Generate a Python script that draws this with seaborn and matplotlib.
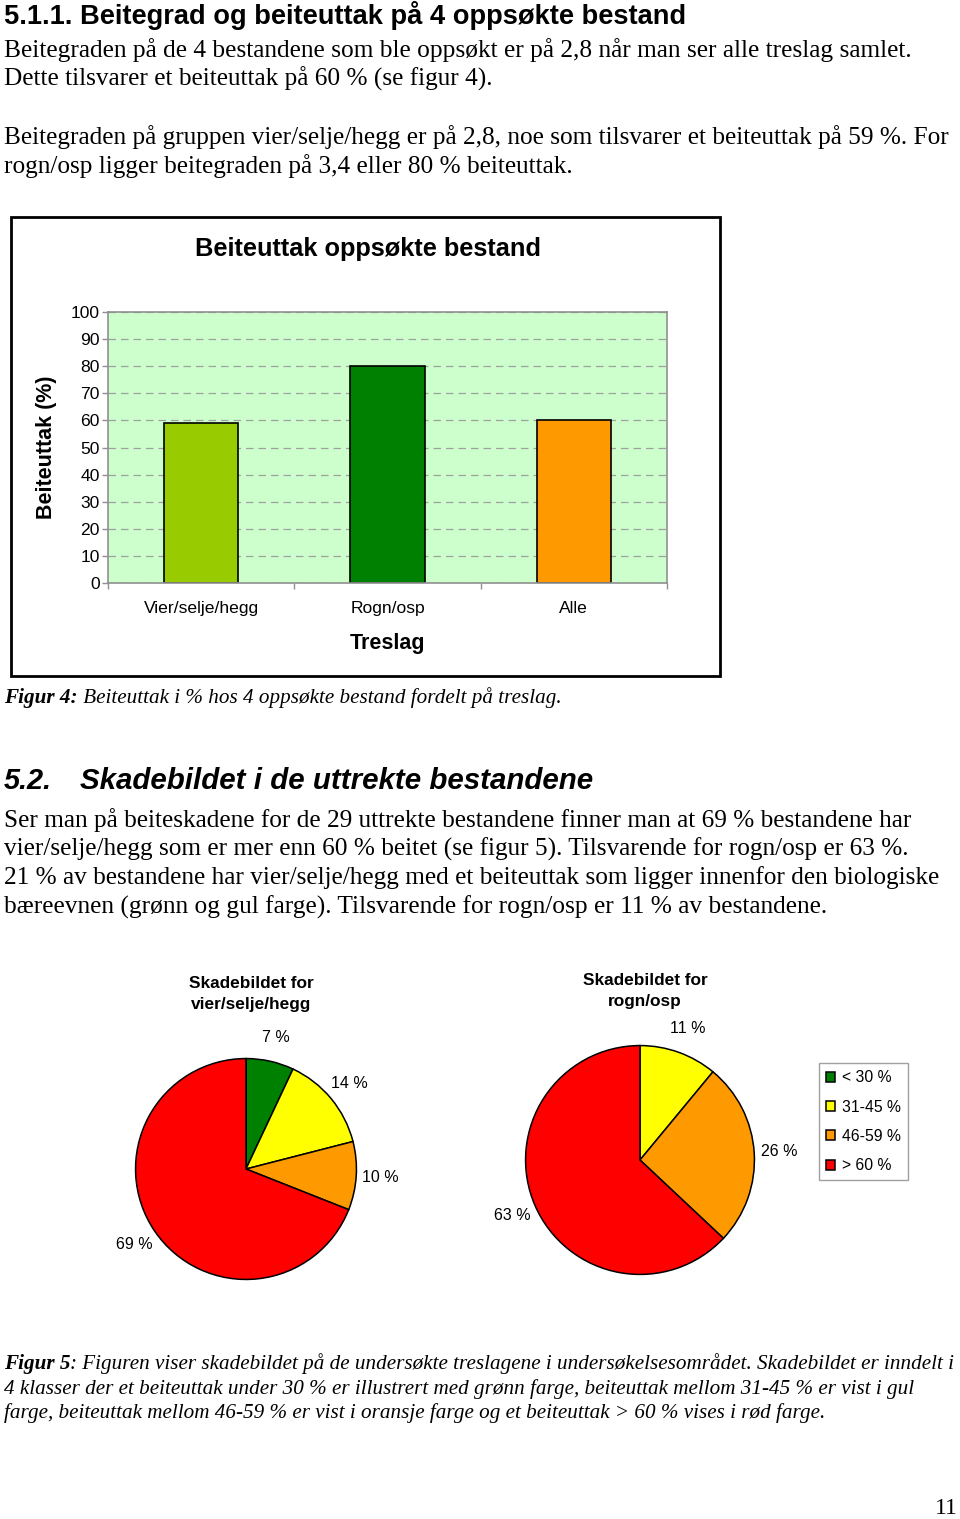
import matplotlib
matplotlib.use("Agg")
import matplotlib.pyplot as plt
import seaborn as sns
import pandas as pd
from matplotlib.patches import Rectangle
from matplotlib.ticker import FixedLocator

# ---------------- data ----------------
bar_categories = ["Vier/selje/hegg", "Rogn/osp", "Alle"]
bar_values = [59, 80, 60]
bar_colors = ["#99CC00", "#008000", "#FF9900"]
y_ticks = [0, 10, 20, 30, 40, 50, 60, 70, 80, 90, 100]

damage_classes = ["< 30 %", "31-45 %", "46-59 %", "> 60 %"]
class_colors = ["#008000", "#FFFF00", "#FF9900", "#FF0000"]
vier_shares = [7, 14, 10, 69]
rogn_shares = [0, 11, 26, 63]

# ---------------- setup ----------------
sns.set_theme(style="white")
plt.rcParams['font.family'] = ['Liberation Sans', 'DejaVu Sans']
plt.rcParams['text.color'] = 'black'
plt.rcParams['axes.labelcolor'] = 'black'
plt.rcParams['xtick.labelcolor'] = 'black'
plt.rcParams['ytick.labelcolor'] = 'black'
W, H = 960, 1519
fig = plt.figure(figsize=(9.6, 15.19), dpi=100)
fig.patch.set_facecolor("white")
renderer = fig.canvas.get_renderer()


def fx(x):
    return x / W


def fy(y):
    return 1 - y / H


def put(x, y, s, width=None, size=12, **kw):
    kw.setdefault("va", "center")
    t = fig.text(fx(x), fy(y), s, fontsize=size, **kw)
    if width:
        bb = t.get_window_extent(renderer)
        t.set_fontsize(size * width / bb.width)
    return t


def put_mixed(x, y, first, rest, width, size=12, family="Liberation Serif"):
    t1 = fig.text(fx(x), fy(y), first, fontsize=size, family=family,
                  style="italic", weight="bold", va="center")
    b1 = t1.get_window_extent(renderer)
    t2 = fig.text(fx(x) + b1.width / W, fy(y), rest, fontsize=size, family=family,
                  style="italic", va="center")
    b2 = t2.get_window_extent(renderer)
    scale = width / (b1.width + b2.width)
    ns = size * scale
    t1.set_fontsize(ns)
    b1 = t1.get_window_extent(renderer)
    t2.set_fontsize(ns)
    t2.set_x(fx(x) + b1.width / W)


serif = "Liberation Serif"

# ---------------- page text ----------------
put(4, 15, "5.1.1. Beitegrad og beiteuttak på 4 oppsøkte bestand", width=683,
    size=17, weight="bold")
put(4, 50, "Beitegraden på de 4 bestandene som ble oppsøkt er på 2,8 når man ser alle treslag samlet.",
    width=908, size=16, family=serif)
put(4, 79, "Dette tilsvarer et beiteuttak på 60 % (se figur 4).", width=489, size=16, family=serif)
put(4, 137, "Beitegraden på gruppen vier/selje/hegg er på 2,8, noe som tilsvarer et beiteuttak på 59 %. For",
    width=946, size=16, family=serif)
put(4, 166, "rogn/osp ligger beitegraden på 3,4 eller 80 % beiteuttak.", width=568, size=16, family=serif)

put_mixed(4, 698, "Figur 4:", " Beiteuttak i % hos 4 oppsøkte bestand fordelt på treslag.", 556, size=14)

put(4, 781, "5.2.", width=48, size=20, weight="bold", style="italic")
put(80, 781, "Skadebildet i de uttrekte bestandene", width=513, size=20, weight="bold", style="italic")

body2 = [
    (820, "Ser man på beiteskadene for de 29 uttrekte bestandene finner man at 69 % bestandene har", 909),
    (849, "vier/selje/hegg som er mer enn 60 % beitet (se figur 5). Tilsvarende for rogn/osp er 63 %.", 906),
    (878, "21 % av bestandene har vier/selje/hegg med et beiteuttak som ligger innenfor den biologiske", 937),
    (907, "bæreevnen (grønn og gul farge). Tilsvarende for rogn/osp er 11 % av bestandene.", 824),
]
for yy, s, w in body2:
    put(4, yy, s, width=w, size=16, family=serif)

put_mixed(4, 1364, "Figur 5", ": Figuren viser skadebildet på de undersøkte treslagene i undersøkelsesområdet. Skadebildet er inndelt i",
          948, size=14)
put(4, 1389, "4 klasser der et beiteuttak under 30 % er illustrert med grønn farge, beiteuttak mellom 31-45 % er vist i gul",
    width=909, size=14, family=serif, style="italic")
put(4, 1413, "farge, beiteuttak mellom 46-59 % er vist i oransje farge og et beiteuttak > 60 % vises i rød farge.",
    width=820, size=14, family=serif, style="italic")

put(958, 1509, "11", size=17, family=serif, ha="right")

# ---------------- bar chart ----------------
fig.add_artist(Rectangle((fx(11), fy(676)), (720 - 11) / W, (676 - 217) / H,
                         transform=fig.transFigure, fill=False, edgecolor="black", lw=2))

ax = fig.add_axes([fx(108), fy(583), (667 - 108) / W, (583 - 312) / H])
df = pd.DataFrame({"Treslag": bar_categories, "Beiteuttak": bar_values})
sns.barplot(data=df, x="Treslag", y="Beiteuttak", hue="Treslag", palette=bar_colors,
            legend=False, width=0.4, edgecolor="black", linewidth=1.2, saturation=1, ax=ax)
ax.set_facecolor("#CCFFCC")
ax.set_xlim(-0.5, 2.5)
ax.set_ylim(0, 100)
ax.set_yticks(y_ticks)
ax.set_yticklabels([str(v) for v in y_ticks], fontsize=12.6)
ax.yaxis.grid(True, linestyle=(0, (6, 4)), color="#A0A0A0", lw=0.9)
ax.set_axisbelow(True)
for sp in ax.spines.values():
    sp.set_visible(True)
    sp.set_color("#909090")
    sp.set_linewidth(1.2)
ax.tick_params(axis="y", left=True, length=4, width=1, color="#909090", pad=2, labelcolor="black")
ax.tick_params(axis="x", which="major", length=0, pad=13, labelsize=12.6, labelcolor="black")
ax.xaxis.set_minor_locator(FixedLocator([-0.5, 0.5, 1.5, 2.5]))
ax.tick_params(axis="x", which="minor", bottom=True, length=4, width=1, color="#909090")
ax.set_xlabel("Treslag", fontsize=15.5, fontweight="bold", labelpad=12, color="black")
ax.set_ylabel("Beiteuttak (%)", fontsize=15.5, fontweight="bold", labelpad=10, color="black")
put(368, 249, "Beiteuttak oppsøkte bestand", size=18.3, weight="bold", ha="center")

# ---------------- pies ----------------
def pie_at(cx, cy, r, values, title, title_y):
    pax = fig.add_axes([fx(cx - r), fy(cy + r), 2 * r / W, 2 * r / H])
    pax.pie(values, colors=class_colors, startangle=90, counterclock=False,
            wedgeprops=dict(edgecolor="black", linewidth=1.1),
            autopct=lambda p: f"{p:.0f} %" if p > 0.5 else "",
            pctdistance=1.22, textprops=dict(fontsize=11.5, color="black"))
    pax.set_xlim(-1.005, 1.005)
    pax.set_ylim(-1.005, 1.005)
    pax.axis("off")
    put(cx + 5, title_y, title, size=12.4, weight="bold", ha="center", linespacing=1.55)
    return pax


pie_at(246, 1169, 111, vier_shares, "Skadebildet for\nvier/selje/hegg", 994)
pax2 = pie_at(640, 1160, 115, rogn_shares, "Skadebildet for\nrogn/osp", 991)

handles = pax2.patches[:4]
leg = fig.legend(handles, damage_classes, loc="upper left",
                 bbox_to_anchor=(fx(819), fy(1063)), frameon=True, fancybox=False,
                 edgecolor="#A0A0A0", framealpha=1, fontsize=11.3,
                 handlelength=0.6, handleheight=0.6, handletextpad=0.4,
                 labelspacing=0.92, borderpad=0.45, borderaxespad=0, labelcolor="black")
leg.get_frame().set_linewidth(1)

fig.savefig("out.png", dpi=100)
